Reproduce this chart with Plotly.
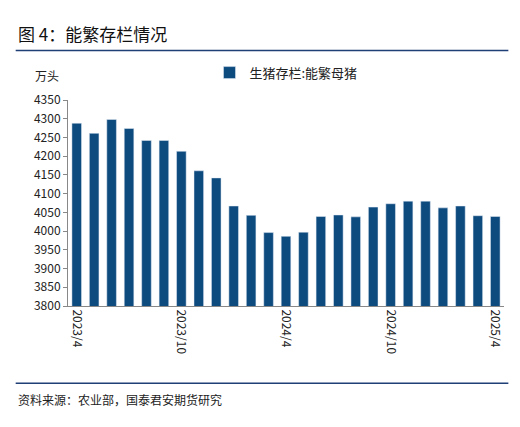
import plotly.graph_objects as go

months = ['2023/4', '2023/5', '2023/6', '2023/7', '2023/8', '2023/9', '2023/10', '2023/11', '2023/12',
          '2024/1', '2024/2', '2024/3', '2024/4', '2024/5', '2024/6', '2024/7', '2024/8', '2024/9',
          '2024/10', '2024/11', '2024/12', '2025/1', '2025/2', '2025/3', '2025/4']
sows = [4288, 4261, 4298, 4274, 4242, 4242, 4213, 4161, 4142,
        4067, 4042, 3996, 3986, 3997, 4039, 4043, 4038, 4064,
        4073, 4080, 4080, 4062, 4067, 4041, 4039]
tick_labels = ['2023/4', '2023/10', '2024/4', '2024/10', '2025/4']

fig = go.Figure()
fig.add_trace(go.Bar(x=months, y=sows, name='生猪存栏:能繁母猪',
                     marker_color='#0d4a7e', width=0.55))

fig.update_layout(
    autosize=True,
    margin=dict(l=60, r=8, t=92, b=113),
    plot_bgcolor='white', paper_bgcolor='white',
    font=dict(family='Noto Sans CJK SC', size=12, color='#222'),
    showlegend=True,
    legend=dict(orientation='h', x=0.5, xanchor='center', y=1.06, yanchor='bottom',
                font=dict(size=13)),
    xaxis=dict(type='category', tickmode='array', tickvals=tick_labels, ticktext=tick_labels,
               tickangle=90, showline=True, linecolor='#888', ticks='', tickfont=dict(size=12)),
    yaxis=dict(range=[3800, 4350], dtick=50, showgrid=False, showline=True,
               linecolor='#888', ticks='outside', ticklen=4, tickcolor='#888',
               tickfont=dict(size=12)),
    shapes=[
        dict(type='line', xref='paper', yref='paper', x0=-0.12, x1=1.01, y0=1.24, y1=1.24,
             line=dict(color='#1f3f77', width=1.5)),
        dict(type='line', xref='paper', yref='paper', x0=-0.12, x1=1.01, y0=-0.375, y1=-0.375,
             line=dict(color='#1f3f77', width=1.5)),
    ],
    annotations=[
        dict(text='图 4：能繁存栏情况', xref='paper', yref='paper', x=-0.12, y=1.25,
             xanchor='left', yanchor='bottom', showarrow=False,
             font=dict(size=17, color='#111')),
        dict(text='万头', xref='paper', yref='paper', x=-0.08, y=1.07,
             xanchor='left', yanchor='bottom', showarrow=False, font=dict(size=12)),
        dict(text='资料来源：农业部，国泰君安期货研究', xref='paper', yref='paper', x=-0.12, y=-0.405,
             xanchor='left', yanchor='top', showarrow=False, font=dict(size=12)),
    ],
)

fig.write_html("out.html")
